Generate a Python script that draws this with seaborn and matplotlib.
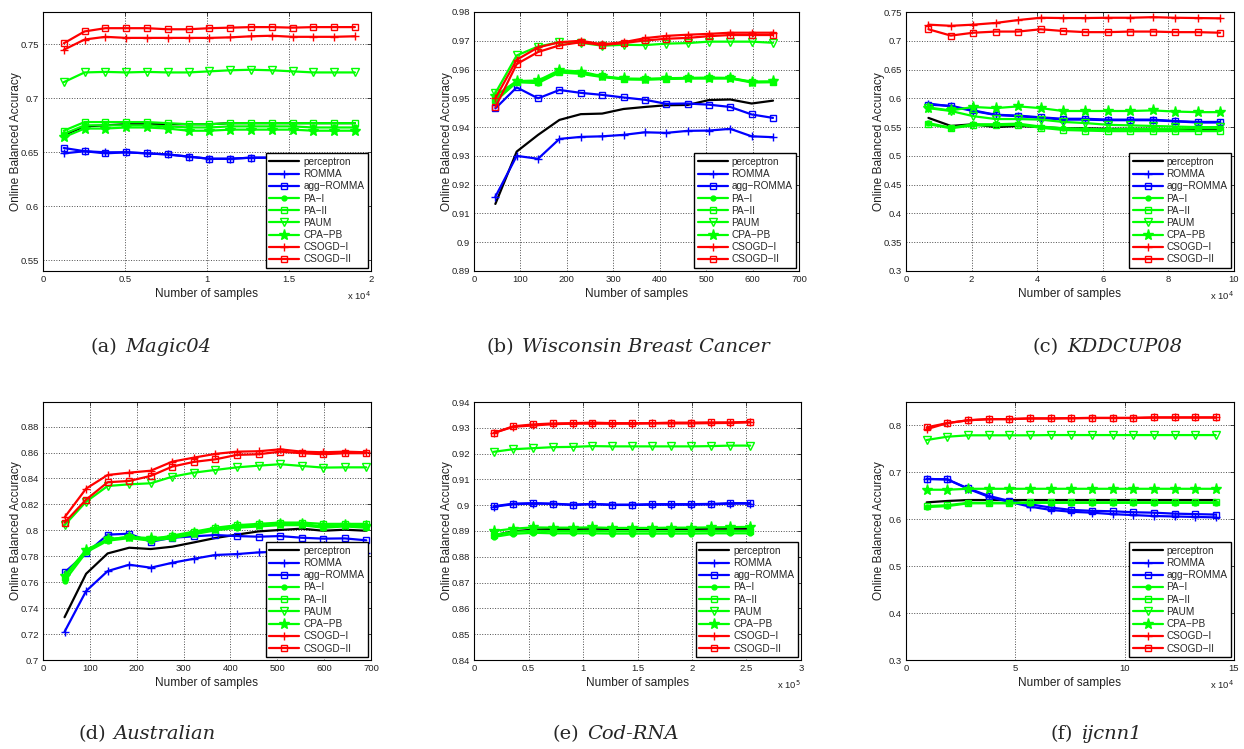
import matplotlib
matplotlib.use("Agg")
import matplotlib.pyplot as plt
from matplotlib.ticker import FuncFormatter
import seaborn as sns

# ------------------------------------------
# data
# ------------------------------------------
labels = ["perceptron", "ROMMA", "agg\u2212ROMMA", "PA\u2212I", "PA\u2212II",
          "PAUM", "CPA\u2212PB", "CSOGD\u2212I", "CSOGD\u2212II"]

# (a) Magic04
magic_x = [1268, 2536, 3804, 5072, 6340, 7608, 8876, 10144, 11412, 12680, 13948, 15216, 16484, 17752, 19020]
magic_perceptron = [0.666, 0.674, 0.675, 0.676, 0.676, 0.676, 0.676, 0.676, 0.677, 0.677, 0.677, 0.677, 0.677, 0.677, 0.677]
magic_romma = [0.649, 0.651, 0.650, 0.650, 0.649, 0.648, 0.646, 0.644, 0.644, 0.645, 0.645, 0.645, 0.645, 0.645, 0.645]
magic_agg = [0.654, 0.651, 0.649, 0.650, 0.649, 0.648, 0.646, 0.644, 0.644, 0.645, 0.645, 0.645, 0.645, 0.645, 0.645]
magic_pa1 = [0.667, 0.675, 0.675, 0.675, 0.675, 0.674, 0.673, 0.673, 0.674, 0.674, 0.674, 0.674, 0.673, 0.673, 0.673]
magic_pa2 = [0.670, 0.678, 0.678, 0.678, 0.678, 0.677, 0.676, 0.676, 0.677, 0.677, 0.677, 0.677, 0.677, 0.677, 0.677]
magic_paum = [0.715, 0.724, 0.7245, 0.724, 0.7245, 0.724, 0.724, 0.725, 0.726, 0.7265, 0.726, 0.725, 0.724, 0.724, 0.724]
magic_cpapb = [0.664, 0.672, 0.672, 0.673, 0.673, 0.672, 0.670, 0.670, 0.671, 0.671, 0.671, 0.671, 0.670, 0.670, 0.670]
magic_csogd1 = [0.745, 0.7545, 0.757, 0.756, 0.756, 0.756, 0.756, 0.756, 0.7565, 0.7575, 0.758, 0.757, 0.757, 0.757, 0.7575]
magic_csogd2 = [0.751, 0.762, 0.765, 0.765, 0.765, 0.764, 0.764, 0.765, 0.7655, 0.766, 0.766, 0.7655, 0.766, 0.766, 0.766]

# (b) Wisconsin Breast Cancer
wbc_x = [46, 92, 138, 184, 230, 276, 322, 368, 414, 460, 506, 552, 598, 644]
wbc_perceptron = [0.9133, 0.9315, 0.9373, 0.9425, 0.9445, 0.9447, 0.9463, 0.9470, 0.9476, 0.9477, 0.9494, 0.9496, 0.9482, 0.9492]
wbc_romma = [0.9158, 0.9300, 0.9290, 0.9359, 0.9366, 0.9368, 0.9373, 0.9382, 0.9380, 0.9387, 0.9388, 0.9394, 0.9368, 0.9365]
wbc_agg = [0.9465, 0.9538, 0.9500, 0.9529, 0.9519, 0.9512, 0.9503, 0.9495, 0.9481, 0.9482, 0.9478, 0.9470, 0.9444, 0.9432]
wbc_pa1 = [0.9490, 0.9556, 0.9553, 0.9590, 0.9585, 0.9574, 0.9566, 0.9565, 0.9567, 0.9569, 0.9569, 0.9569, 0.9555, 0.9556]
wbc_pa2 = [0.9495, 0.9558, 0.9556, 0.9593, 0.9588, 0.9576, 0.9567, 0.9566, 0.9568, 0.9570, 0.9570, 0.9570, 0.9557, 0.9557]
wbc_paum = [0.9518, 0.9649, 0.9680, 0.9695, 0.9693, 0.9683, 0.9686, 0.9685, 0.9690, 0.9692, 0.9697, 0.9697, 0.9697, 0.9693]
wbc_cpapb = [0.9509, 0.9560, 0.9562, 0.9598, 0.9593, 0.9577, 0.9569, 0.9568, 0.9570, 0.9571, 0.9572, 0.9571, 0.9558, 0.9559]
wbc_csogd1 = [0.9500, 0.9634, 0.9677, 0.9695, 0.9700, 0.9688, 0.9695, 0.9709, 0.9717, 0.9721, 0.9724, 0.9728, 0.9728, 0.9728]
wbc_csogd2 = [0.9469, 0.9619, 0.9661, 0.9684, 0.9695, 0.9685, 0.9692, 0.9701, 0.9707, 0.9710, 0.9716, 0.9720, 0.9720, 0.9720]

# (c) KDDCUP08
kdd_x = [6840, 13680, 20520, 27360, 34200, 41040, 47880, 54720, 61560, 68400, 75240, 82080, 88920, 95760]
kdd_perceptron = [0.566, 0.552, 0.555, 0.550, 0.552, 0.550, 0.548, 0.548, 0.547, 0.547, 0.547, 0.546, 0.546, 0.546]
kdd_romma = [0.591, 0.586, 0.578, 0.571, 0.569, 0.566, 0.563, 0.563, 0.562, 0.562, 0.562, 0.560, 0.558, 0.558]
kdd_agg = [0.589, 0.587, 0.579, 0.5715, 0.570, 0.567, 0.5645, 0.5645, 0.563, 0.563, 0.563, 0.5605, 0.559, 0.559]
kdd_pa1 = [0.557, 0.549, 0.555, 0.555, 0.556, 0.551, 0.548, 0.547, 0.546, 0.547, 0.547, 0.547, 0.548, 0.548]
kdd_pa2 = [0.555, 0.548, 0.553, 0.553, 0.554, 0.549, 0.545, 0.544, 0.543, 0.543, 0.543, 0.543, 0.543, 0.543]
kdd_paum = [0.583, 0.578, 0.569, 0.564, 0.564, 0.563, 0.559, 0.557, 0.554, 0.553, 0.552, 0.551, 0.550, 0.550]
kdd_cpapb = [0.584, 0.579, 0.585, 0.583, 0.586, 0.583, 0.578, 0.578, 0.578, 0.578, 0.579, 0.577, 0.576, 0.576]
kdd_csogd1 = [0.728, 0.726, 0.728, 0.731, 0.736, 0.740, 0.7395, 0.7395, 0.740, 0.740, 0.741, 0.740, 0.7395, 0.739]
kdd_csogd2 = [0.720, 0.709, 0.714, 0.716, 0.716, 0.720, 0.717, 0.715, 0.715, 0.716, 0.716, 0.715, 0.715, 0.714]

# (d) Australian
aus_x = [46, 92, 138, 184, 230, 276, 322, 368, 414, 460, 506, 552, 598, 644, 690]
aus_perceptron = [0.733, 0.7665, 0.7822, 0.7866, 0.7856, 0.7874, 0.7907, 0.7941, 0.7967, 0.7992, 0.8003, 0.8013, 0.7997, 0.8005, 0.7997]
aus_romma = [0.7218, 0.7532, 0.7686, 0.7735, 0.7712, 0.7750, 0.7781, 0.7810, 0.7817, 0.7830, 0.7835, 0.7835, 0.7830, 0.7830, 0.7828]
aus_agg = [0.7676, 0.7822, 0.7967, 0.7974, 0.7912, 0.7943, 0.7954, 0.7964, 0.7956, 0.7951, 0.7956, 0.7943, 0.7936, 0.7938, 0.7923]
aus_pa1 = [0.761, 0.783, 0.792, 0.794, 0.792, 0.794, 0.797, 0.800, 0.802, 0.803, 0.804, 0.804, 0.802, 0.803, 0.802]
aus_pa2 = [0.764, 0.784, 0.793, 0.795, 0.793, 0.796, 0.799, 0.802, 0.804, 0.805, 0.806, 0.806, 0.805, 0.805, 0.805]
aus_paum = [0.804, 0.8221, 0.8342, 0.8355, 0.8363, 0.8414, 0.8445, 0.8466, 0.8486, 0.8499, 0.8510, 0.8497, 0.8484, 0.8486, 0.8486]
aus_cpapb = [0.765, 0.785, 0.793, 0.795, 0.794, 0.795, 0.798, 0.801, 0.803, 0.804, 0.805, 0.805, 0.803, 0.804, 0.803]
aus_csogd1 = [0.810, 0.8322, 0.8427, 0.8445, 0.8460, 0.8530, 0.8561, 0.8590, 0.8607, 0.8610, 0.8625, 0.8607, 0.8602, 0.8607, 0.8602]
aus_csogd2 = [0.8059, 0.8237, 0.8371, 0.8381, 0.8420, 0.8492, 0.8528, 0.8548, 0.8582, 0.8587, 0.8607, 0.8595, 0.8587, 0.8595, 0.8595]

# (e) Cod-RNA
cod_x = [18100, 36200, 54300, 72400, 90500, 108600, 126700, 144800, 162900, 181000, 199100, 217200, 235300, 253400]
cod_perceptron = [0.8883, 0.8899, 0.8905, 0.8908, 0.8908, 0.8909, 0.8908, 0.8908, 0.8908, 0.8908, 0.8908, 0.8909, 0.8909, 0.8909]
cod_romma = [0.8994, 0.9004, 0.9006, 0.9005, 0.9001, 0.9004, 0.9001, 0.9001, 0.9002, 0.9002, 0.9002, 0.9003, 0.9006, 0.9006]
cod_agg = [0.8996, 0.9006, 0.9008, 0.9006, 0.9002, 0.9005, 0.9002, 0.9002, 0.9004, 0.9004, 0.9004, 0.9005, 0.9008, 0.9008]
cod_pa1 = [0.8877, 0.8889, 0.8893, 0.8891, 0.8891, 0.8891, 0.8890, 0.8890, 0.8890, 0.8890, 0.8890, 0.8891, 0.8891, 0.8891]
cod_pa2 = [0.8885, 0.8897, 0.8901, 0.8900, 0.8900, 0.8900, 0.8899, 0.8899, 0.8899, 0.8899, 0.8899, 0.8900, 0.8900, 0.8900]
cod_paum = [0.9207, 0.9217, 0.9221, 0.9225, 0.9226, 0.9229, 0.9228, 0.9228, 0.9228, 0.9228, 0.9228, 0.9229, 0.9231, 0.9231]
cod_cpapb = [0.8900, 0.8909, 0.8914, 0.8913, 0.8913, 0.8914, 0.8912, 0.8912, 0.8912, 0.8913, 0.8913, 0.8914, 0.8915, 0.8916]
cod_csogd1 = [0.9280, 0.9304, 0.9309, 0.9314, 0.9316, 0.9316, 0.9316, 0.9316, 0.9317, 0.9317, 0.9317, 0.9318, 0.9319, 0.9321]
cod_csogd2 = [0.9280, 0.9306, 0.9313, 0.9317, 0.9318, 0.9320, 0.9318, 0.9318, 0.9318, 0.9320, 0.9320, 0.9321, 0.9321, 0.9323]

# (f) ijcnn1
ijc_x = [9446, 18892, 28338, 37784, 47230, 56676, 66122, 75568, 85014, 94460, 103906, 113352, 122798, 132244, 141690]
ijc_perceptron = [0.636, 0.639, 0.641, 0.641, 0.641, 0.641, 0.641, 0.641, 0.641, 0.641, 0.641, 0.641, 0.641, 0.641, 0.641]
ijc_romma = [0.686, 0.685, 0.665, 0.648, 0.637, 0.627, 0.620, 0.616, 0.614, 0.611, 0.609, 0.607, 0.606, 0.605, 0.604]
ijc_agg = [0.686, 0.685, 0.666, 0.650, 0.639, 0.632, 0.625, 0.620, 0.618, 0.617, 0.615, 0.614, 0.612, 0.611, 0.610]
ijc_pa1 = [0.626, 0.628, 0.634, 0.634, 0.634, 0.635, 0.635, 0.635, 0.635, 0.635, 0.635, 0.635, 0.635, 0.635, 0.635]
ijc_pa2 = [0.628, 0.630, 0.635, 0.635, 0.635, 0.636, 0.636, 0.636, 0.636, 0.636, 0.636, 0.636, 0.636, 0.636, 0.636]
ijc_paum = [0.769, 0.776, 0.779, 0.779, 0.779, 0.779, 0.7795, 0.7795, 0.7795, 0.7795, 0.7795, 0.7795, 0.7795, 0.7795, 0.7795]
ijc_cpapb = [0.663, 0.663, 0.665, 0.665, 0.665, 0.665, 0.665, 0.665, 0.665, 0.665, 0.665, 0.665, 0.665, 0.665, 0.665]
ijc_csogd1 = [0.792, 0.805, 0.811, 0.8135, 0.8135, 0.815, 0.815, 0.8155, 0.816, 0.816, 0.816, 0.817, 0.817, 0.817, 0.817]
ijc_csogd2 = [0.796, 0.805, 0.811, 0.8135, 0.8135, 0.815, 0.815, 0.8155, 0.816, 0.816, 0.816, 0.817, 0.817, 0.817, 0.817]

# ------------------------------------------
# styling
# ------------------------------------------
sns.set_style("white")
plt.rcParams["font.family"] = ["Liberation Sans", "DejaVu Sans"]

BLUE, GREEN, RED = "#0000ff", "#00ff00", "#ff0000"
styles = [
    dict(color="k", marker=None),
    dict(color=BLUE, marker="+", markersize=6),
    dict(color=BLUE, marker="s", markerfacecolor="none", markersize=5),
    dict(color=GREEN, marker=".", markersize=7),
    dict(color=GREEN, marker="s", markerfacecolor="none", markersize=5),
    dict(color=GREEN, marker="v", markerfacecolor="none", markersize=6),
    dict(color=GREEN, marker="*", markersize=8),
    dict(color=RED, marker="+", markersize=6),
    dict(color=RED, marker="s", markerfacecolor="none", markersize=5),
]

W, H = 1244, 749


def px_rect(l, t, r, b):
    # pixel box (left, top, right, bottom) -> figure fraction rect
    return [l / W, 1 - b / H, (r - l) / W, (b - t) / H]


panels = [
    dict(x=magic_x, ys=[magic_perceptron, magic_romma, magic_agg, magic_pa1, magic_pa2,
                        magic_paum, magic_cpapb, magic_csogd1, magic_csogd2],
         rect=px_rect(43, 12, 371, 271), xlim=(0, 20000), xstep=5000, scale=1e4, expo="4",
         ylim=(0.54, 0.78), yticks=[0.55, 0.6, 0.65, 0.7, 0.75],
         tag="(a)", name="Magic04", cap=(90, 347)),
    dict(x=wbc_x, ys=[wbc_perceptron, wbc_romma, wbc_agg, wbc_pa1, wbc_pa2,
                      wbc_paum, wbc_cpapb, wbc_csogd1, wbc_csogd2],
         rect=px_rect(474, 12, 799, 271), xlim=(0, 700), xstep=100, scale=1, expo=None,
         ylim=(0.89, 0.98), yticks=[0.89 + 0.01 * i for i in range(10)],
         tag="(b)", name="Wisconsin Breast Cancer", cap=(486, 347)),
    dict(x=kdd_x, ys=[kdd_perceptron, kdd_romma, kdd_agg, kdd_pa1, kdd_pa2,
                      kdd_paum, kdd_cpapb, kdd_csogd1, kdd_csogd2],
         rect=px_rect(906, 12, 1234, 271), xlim=(0, 100000), xstep=20000, scale=1e4, expo="4",
         ylim=(0.3, 0.75), yticks=[0.3 + 0.05 * i for i in range(10)],
         tag="(c)", name="KDDCUP08", cap=(1033, 347)),
    dict(x=aus_x, ys=[aus_perceptron, aus_romma, aus_agg, aus_pa1, aus_pa2,
                      aus_paum, aus_cpapb, aus_csogd1, aus_csogd2],
         rect=px_rect(43, 402, 371, 660), xlim=(0, 700), xstep=100, scale=1, expo=None,
         ylim=(0.7, 0.899), yticks=[0.7 + 0.02 * i for i in range(10)],
         tag="(d)", name="Australian", cap=(78, 734)),
    dict(x=cod_x, ys=[cod_perceptron, cod_romma, cod_agg, cod_pa1, cod_pa2,
                      cod_paum, cod_cpapb, cod_csogd1, cod_csogd2],
         rect=px_rect(474, 402, 801, 660), xlim=(0, 300000), xstep=50000, scale=1e5, expo="5",
         ylim=(0.84, 0.94), yticks=[0.84 + 0.01 * i for i in range(11)],
         tag="(e)", name="Cod-RNA", cap=(552, 734)),
    dict(x=ijc_x, ys=[ijc_perceptron, ijc_romma, ijc_agg, ijc_pa1, ijc_pa2,
                      ijc_paum, ijc_cpapb, ijc_csogd1, ijc_csogd2],
         rect=px_rect(906, 402, 1234, 660), xlim=(0, 150000), xstep=50000, scale=1e4, expo="4",
         ylim=(0.3, 0.85), yticks=[0.3, 0.4, 0.5, 0.6, 0.7, 0.8],
         tag="(f)", name="ijcnn1", cap=(1050, 734)),
]

fig = plt.figure(figsize=(W / 100, H / 100), dpi=100)
fig.patch.set_facecolor("white")

for p in panels:
    ax = fig.add_axes(p["rect"])
    for lab, st, y in zip(labels, styles, p["ys"]):
        kw = dict(st)
        if kw.get("marker") is not None:
            kw["markeredgecolor"] = kw["color"]
            kw["markeredgewidth"] = 1.0
        sns.lineplot(x=p["x"], y=y, ax=ax, linewidth=1.6, label=lab, **kw)

    ax.set_xlim(*p["xlim"])
    ax.set_ylim(*p["ylim"])
    ax.set_xticks(list(range(p["xlim"][0], p["xlim"][1] + 1, p["xstep"])))
    ax.set_yticks(p["yticks"])
    sc = p["scale"]
    ax.xaxis.set_major_formatter(FuncFormatter(lambda v, _, sc=sc: "%g" % round(v / sc, 4)))
    ax.yaxis.set_major_formatter(FuncFormatter(lambda v, _: "%g" % round(v, 4)))
    ax.tick_params(direction="in", top=True, right=True, length=3, width=0.6,
                   labelsize=6.8, labelcolor="#222222", pad=3)
    ax.grid(True, linestyle=":", color="0.3", linewidth=0.7)
    for s in ax.spines.values():
        s.set_linewidth(0.8)
        s.set_color("k")

    ax.set_xlabel("Number of samples", fontsize=8.6, color="#222222", labelpad=3)
    ax.set_ylabel("Online Balanced Accuracy", fontsize=8.6, color="#222222")
    ax.yaxis.set_label_coords(-21 / (p["rect"][2] * W), 0.5)
    if p["expo"]:
        ax.text(1.0, -0.095, "x 10$^{%s}$" % p["expo"], transform=ax.transAxes,
                ha="right", va="center", fontsize=6.8, color="#222222")

    leg = ax.legend(loc="lower right", fontsize=7.2, frameon=True, fancybox=False,
                    edgecolor="k", framealpha=1, borderaxespad=0.3, handlelength=3.0,
                    handletextpad=0.4, labelspacing=0.22, borderpad=0.35)
    leg.get_frame().set_linewidth(1.0)

    # caption under each panel: "(x)" upright, dataset name italic
    cx, cy = p["cap"]
    t = fig.text(cx / W, 1 - cy / H, p["tag"], fontsize=14, family="DejaVu Serif",
                 ha="left", va="center")
    ax.annotate(p["name"], xy=(1, 0), xycoords=t, xytext=(6, 0), textcoords="offset points",
                fontsize=14, family="DejaVu Serif", style="italic", ha="left", va="bottom",
                annotation_clip=False)

fig.savefig("out.png", dpi=100)
